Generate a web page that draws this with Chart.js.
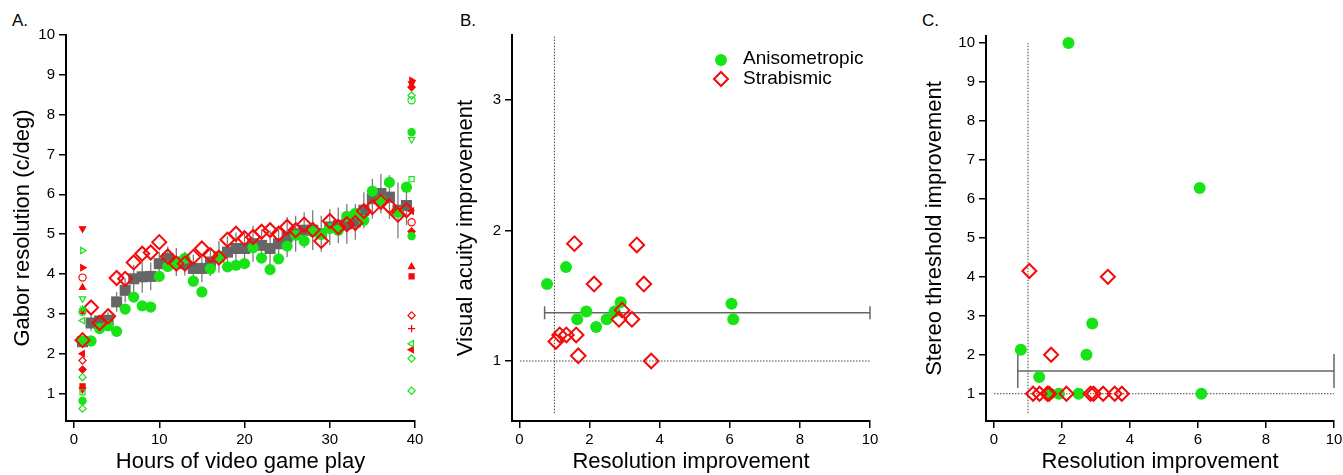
<!DOCTYPE html>
<html>
<head>
<meta charset="utf-8">
<script src="https://cdn.jsdelivr.net/npm/chart.js@4.4.0/dist/chart.umd.min.js"></script>
<style>
  body { margin: 0; background: #fff; width: 1343px; height: 475px; position: relative; overflow: hidden;
         font-family: "Liberation Sans", Arial, Helvetica, sans-serif; }
  canvas { position: absolute; top: 0; }
  .panel { position: absolute; top: 11px; font-size: 17px; color: #000; line-height: 20px; }
</style>
</head>
<body>
<div class="panel" style="left:12px">A.</div>
<div class="panel" style="left:460px">B.</div>
<div class="panel" style="left:922px">C.</div>
<canvas id="chartA" width="440" height="475" style="left:0"></canvas>
<canvas id="chartB" width="450" height="475" style="left:440px"></canvas>
<canvas id="chartC" width="453" height="475" style="left:890px"></canvas>
<script>
// ---- panel A: resolution vs hours of play ----
const hours = [1, 2, 3, 4, 5, 6, 7, 8, 9, 10, 11, 12, 13, 14, 15, 16, 17, 18, 19, 20,
  21, 22, 23, 24, 25, 26, 27, 28, 29, 30, 31, 32, 33, 34, 35, 36, 37, 38, 39];
const meanAll = [2.30, 2.77, 2.82, 2.84, 3.30, 3.59, 3.88, 3.93, 3.94, 4.26, 4.39, 4.30, 4.26, 4.14, 4.14,
  4.30, 4.43, 4.55, 4.64, 4.64, 4.76, 4.72, 4.64, 4.76, 4.93, 5.01, 5.10, 5.10, 5.01, 5.18, 5.22, 5.26,
  5.31, 5.60, 5.89, 6.02, 5.93, 5.60, 5.72];
const errAll = [0.12, 0.2, 0.15, 0.2, 0.25, 0.3, 0.35, 0.4, 0.35, 0.3, 0.3, 0.35, 0.3, 0.35, 0.35, 0.35,
  0.4, 0.4, 0.4, 0.45, 0.45, 0.4, 0.45, 0.45, 0.5, 0.45, 0.45, 0.5, 0.45, 0.45, 0.45, 0.5, 0.45, 0.45,
  0.5, 0.5, 0.55, 0.7, 0.5];
const anisoMean = [2.32, 2.32, 2.63, 2.70, 2.56, 3.12, 3.42, 3.20, 3.17, 3.94, 4.19, 4.26, 4.39, 3.82, 3.55,
  4.13, 4.43, 4.18, 4.22, 4.26, 4.66, 4.40, 4.11, 4.38, 4.70, 4.97, 4.83, 5.06, 5.00, 5.14, 5.10, 5.45,
  5.52, 5.35, 6.08, 5.85, 6.30, 5.55, 6.18];
const strabMean = [2.34, 3.16, 2.77, 2.94, 3.90, 3.88, 4.29, 4.51, 4.54, 4.80, 4.44, 4.26, 4.26, 4.43, 4.64,
  4.47, 4.41, 4.86, 5.01, 4.90, 4.93, 5.06, 5.10, 5.01, 5.18, 5.10, 5.24, 5.11, 4.83, 5.33, 5.18, 5.25,
  5.28, 5.58, 5.68, 5.81, 5.70, 5.49, 5.60];

// individual subjects before and after training
const preHour = 1;
const postHour = 39.6;
const anisoPre = [4.59, 3.38, 3.13, 3.05, 2.83, 1.41, 1.03, 0.82, 0.62];
const anisoPreMk = ['tr-o', 'td-o', 'star-o', 'c-o', 'tl-o', 'd-o', 'sq-o', 'c-f', 'd-o'];
const strabPre = [5.14, 4.16, 3.91, 3.66, 3.05, 2.00, 1.83, 1.60, 1.18, 1.10];
const strabPreMk = ['td-f', 'tr-f', 'c-o', 'tu-f', 'star-o', 'tl-f', 'd-o', 'd-f', 'sq-f', 'td-f'];
const anisoPost = [8.48, 8.36, 7.56, 7.38, 6.38, 4.95, 2.25, 1.88, 1.07];
const anisoPostMk = ['d-o', 'c-o', 'c-f', 'td-o', 'sq-o', 'c-f', 'tl-o', 'd-o', 'd-o'];
const strabPost = [8.86, 8.78, 8.69, 5.58, 5.30, 5.07, 4.18, 3.94, 2.96, 2.63, 2.10];
const strabPostMk = ['tr-f', 'td-f', 'd-f', 'tl-f', 'c-o', 'd-f', 'tu-f', 'sq-f', 'd-o', 'plus-o', 'tl-f'];

const ticksAx = [0, 10, 20, 30, 40];
const ticksAy = [1, 2, 3, 4, 5, 6, 7, 8, 9, 10];

// ---- panels B and C: per subject improvements ----
const anisoRes = [0.79, 1.33, 1.65, 1.91, 2.19, 2.49, 2.72, 2.89, 6.05, 6.10];
const anisoVA = [1.59, 1.72, 1.32, 1.38, 1.26, 1.32, 1.38, 1.45, 1.44, 1.32];
const anisoStereo = [2.13, 1.43, 1.0, 1.0, 10.0, 1.0, 2.0, 2.80, 6.28, 1.0];
const strabRes = [1.04, 1.15, 1.34, 1.57, 1.62, 1.68, 2.13, 2.84, 2.93, 3.21, 3.35, 3.55, 3.76];
const strabVA = [1.15, 1.20, 1.20, 1.90, 1.20, 1.04, 1.59, 1.32, 1.39, 1.32, 1.89, 1.59, 1.00];
const strabStereo = [4.15, 1.0, 1.0, 1.0, 1.0, 2.0, 1.0, 1.0, 1.0, 1.0, 4.0, 1.0, 1.0];

const barB = { lo: 0.72, hi: 10, y: 1.37 };
const barC = { lo: 0.70, hi: 10, y: 1.58 };
const ticksBCx = [0, 2, 4, 6, 8, 10];
const ticksBy = [1, 2, 3];
const ticksCy = [1, 2, 3, 4, 5, 6, 7, 8, 9, 10];

const GREEN = '#17e317';
const RED = '#f50a0a';
const NONE = 'rgba(0,0,0,0)';

Chart.defaults.font.family = '"Liberation Sans", Arial, Helvetica, sans-serif';
Chart.defaults.color = '#000';

function makeAxis(o) {
  return {
    type: 'linear', min: o.min, max: o.max,
    afterBuildTicks: s => { s.ticks = o.ticks.map(v => ({ value: v })); },
    afterFit: s => {
      if (o.width) s.width = o.width;
      if (o.height) s.height = o.height;
      // don't let tick labels push the plot area around
      s.paddingLeft = s.paddingRight = s.paddingTop = s.paddingBottom = 0;
    },
    border: { display: true, color: '#000', width: 2 },
    grid: { drawOnChartArea: false, drawTicks: true, tickLength: 7, color: '#000', lineWidth: 1.5 },
    ticks: { color: '#000', font: { size: 15 }, padding: o.tickPad, maxRotation: 0, autoSkip: false },
    title: { display: true, text: o.title, color: '#000', font: { size: 22 }, padding: o.titlePad }
  };
}

function baseOptions(pad, scales) {
  return {
    responsive: false, animation: false, events: [],
    layout: { padding: pad, autoPadding: false },
    plugins: { legend: { display: false }, tooltip: { enabled: false } },
    scales: scales
  };
}

function markerProps(codes, color) {
  const style = [], rot = [], fill = [];
  codes.forEach(c => {
    const [shape, f] = c.split('-');
    const map = { tu: ['triangle', 0], td: ['triangle', 180], tr: ['triangle', 90], tl: ['triangle', 270],
      c: ['circle', 0], sq: ['rect', 0], d: ['rectRot', 0], star: ['star', 0], plus: ['cross', 0] };
    style.push(map[shape][0]);
    rot.push(map[shape][1]);
    fill.push(f === 'f' ? color : NONE);
  });
  return { pointStyle: style, rotation: rot, backgroundColor: fill, borderColor: color,
    borderWidth: 1.2, pointRadius: 3.6, showLine: false, clip: false, order: 0 };
}

function column(x, vals) { return vals.map(v => ({ x: x, y: v })); }
function pairs(xs, ys) { return xs.map((v, i) => ({ x: v, y: ys[i] })); }

// vertical error bars behind the mean squares
const errorBars = {
  id: 'errorBars',
  beforeDatasetsDraw(chart) {
    const { ctx, scales: { x, y } } = chart;
    ctx.save();
    ctx.strokeStyle = '#7d7d7d';
    ctx.lineWidth = 1.3;
    hours.forEach((h, i) => {
      const px = x.getPixelForValue(h);
      ctx.beginPath();
      ctx.moveTo(px, y.getPixelForValue(meanAll[i] - errAll[i]));
      ctx.lineTo(px, y.getPixelForValue(meanAll[i] + errAll[i]));
      ctx.stroke();
    });
    ctx.restore();
  }
};

new Chart(document.getElementById('chartA'), {
  type: 'scatter',
  data: {
    datasets: [
      { data: pairs(hours, strabMean), pointStyle: 'rectRot', pointRadius: 7, borderColor: RED,
        backgroundColor: NONE, borderWidth: 2, order: 1 },
      { data: pairs(hours, anisoMean), pointStyle: 'circle', pointRadius: 5.6, borderWidth: 0,
        backgroundColor: GREEN, borderColor: GREEN, order: 2 },
      { data: pairs(hours, meanAll), pointStyle: 'rect', pointRadius: 7.8, borderWidth: 0,
        backgroundColor: '#666', borderColor: '#666', order: 3 },
      Object.assign({ data: column(preHour, anisoPre) }, markerProps(anisoPreMk, GREEN)),
      Object.assign({ data: column(preHour, strabPre) }, markerProps(strabPreMk, RED)),
      Object.assign({ data: column(postHour, anisoPost) }, markerProps(anisoPostMk, GREEN)),
      Object.assign({ data: column(postHour, strabPost) }, markerProps(strabPostMk, RED))
    ]
  },
  options: baseOptions({ left: 0, right: 25, top: 35, bottom: 0 }, {
    x: makeAxis({ min: -0.94, max: 40, ticks: ticksAx, height: 54, tickPad: 3,
      title: 'Hours of video game play', titlePad: { top: 0, bottom: 0 } }),
    y: makeAxis({ min: 0.31, max: 10, ticks: ticksAy, width: 66, tickPad: 4,
      title: 'Gabor resolution (c/deg)', titlePad: { top: 10, bottom: 0 } })
  }),
  plugins: [errorBars]
});

function refLines(vx, vy0, vy1, hx0, hx1) {
  const common = { showLine: true, pointRadius: 0, borderColor: '#444', borderWidth: 1,
    borderDash: [1.5, 1.5], order: 10 };
  return [
    Object.assign({ data: [{ x: vx, y: vy0 }, { x: vx, y: vy1 }] }, common),
    Object.assign({ data: [{ x: hx0, y: 1 }, { x: hx1, y: 1 }] }, common)
  ];
}

function rangeBar(b, capR) {
  return { data: [{ x: b.lo, y: b.y }, { x: b.hi, y: b.y }], showLine: true, borderColor: '#666',
    borderWidth: 1.5, pointStyle: 'line', rotation: 90, pointRadius: capR, pointBorderColor: '#666',
    pointBorderWidth: 1.5, clip: false, order: 5 };
}

function groupSets(xs, ysA, rs, ys2, rd, rc) {
  return [
    { data: pairs(rs, ys2), pointStyle: 'rectRot', pointRadius: rd, borderColor: RED,
      backgroundColor: NONE, borderWidth: 2, clip: false, order: 1 },
    { data: pairs(xs, ysA), pointStyle: 'circle', pointRadius: rc, borderWidth: 0,
      backgroundColor: GREEN, borderColor: GREEN, clip: false, order: 2 }
  ];
}

const legendB = {
  id: 'legendB',
  afterDraw(chart) {
    const ctx = chart.ctx;
    ctx.save();
    ctx.fillStyle = GREEN;
    ctx.beginPath();
    ctx.arc(281, 60, 6, 0, Math.PI * 2);
    ctx.fill();
    ctx.strokeStyle = RED;
    ctx.lineWidth = 2;
    ctx.beginPath();
    ctx.moveTo(281, 72); ctx.lineTo(288, 79); ctx.lineTo(281, 86); ctx.lineTo(274, 79); ctx.closePath();
    ctx.stroke();
    ctx.fillStyle = '#000';
    ctx.font = '19px "Liberation Sans", Arial, sans-serif';
    ctx.textBaseline = 'middle';
    ctx.fillText('Anisometropic', 303, 59);
    ctx.fillText('Strabismic', 303, 79);
    ctx.restore();
  }
};

new Chart(document.getElementById('chartB'), {
  type: 'scatter',
  data: {
    datasets: [
      ...groupSets(anisoRes, anisoVA, strabRes, strabVA, 7.3, 6),
      rangeBar(barB, 6.5),
      ...refLines(1, 0.6, 3.5, 0.02, 10)
    ]
  },
  options: baseOptions({ left: 0, right: 20, top: 35, bottom: 0 }, {
    x: makeAxis({ min: -0.21, max: 10, ticks: ticksBCx, height: 54, tickPad: 3,
      title: 'Resolution improvement', titlePad: { top: 0, bottom: 0 } }),
    y: makeAxis({ min: 0.54, max: 3.5, ticks: ticksBy, width: 72, tickPad: 4,
      title: 'Visual acuity improvement', titlePad: { top: 13, bottom: 0 } })
  }),
  plugins: [legendB]
});

new Chart(document.getElementById('chartC'), {
  type: 'scatter',
  data: {
    datasets: [
      ...groupSets(anisoRes, anisoStereo, strabRes, strabStereo, 7, 6),
      rangeBar(barC, 17),
      ...refLines(1, 0.5, 10, 0, 10)
    ]
  },
  options: baseOptions({ left: 0, right: 9, top: 36, bottom: 0 }, {
    x: makeAxis({ min: -0.235, max: 10, ticks: ticksBCx, height: 54, tickPad: 3,
      title: 'Resolution improvement', titlePad: { top: 0, bottom: 0 } }),
    y: makeAxis({ min: 0.30, max: 10.18, ticks: ticksCy, width: 96, tickPad: 4,
      title: 'Stereo threshold improvement', titlePad: { top: 32, bottom: 0 } })
  })
});
</script>
</body>
</html>
